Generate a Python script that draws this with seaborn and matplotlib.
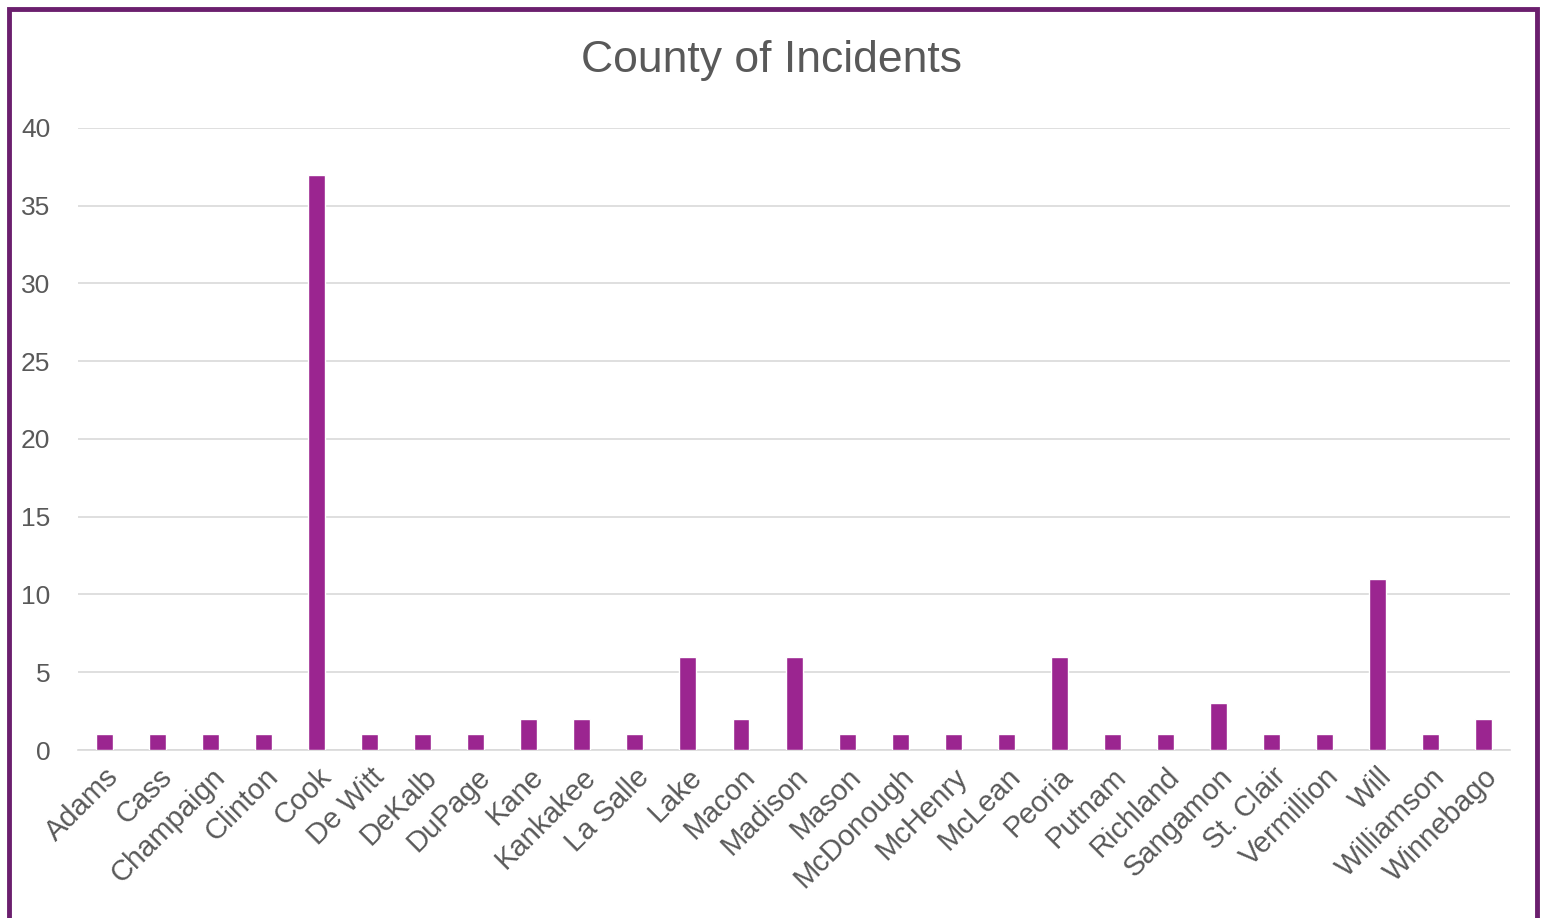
import matplotlib
matplotlib.use("Agg")
import matplotlib.pyplot as plt
import matplotlib.patches as mpatches
import seaborn as sns
import pandas as pd

counties = ["Adams", "Cass", "Champaign", "Clinton", "Cook", "De Witt", "DeKalb",
            "DuPage", "Kane", "Kankakee", "La Salle", "Lake", "Macon", "Madison",
            "Mason", "McDonough", "McHenry", "McLean", "Peoria", "Putnam",
            "Richland", "Sangamon", "St. Clair", "Vermillion", "Will",
            "Williamson", "Winnebago"]
incidents = [1, 1, 1, 1, 37, 1, 1, 1, 2, 2, 1, 6, 2, 6, 1, 1, 1, 1, 6, 1, 1, 3,
             1, 1, 11, 1, 2]
yticks = [0, 5, 10, 15, 20, 25, 30, 35, 40]
title = "County of Incidents"

sns.set_theme(style="white")
plt.rcParams['font.family'] = ['Liberation Sans', 'DejaVu Sans']

df = pd.DataFrame({"County": counties, "Incidents": incidents})

fig = plt.figure(figsize=(15.43, 9.18), dpi=100)
ax = fig.add_axes([0.0506, 0.183, 0.928, 0.6776])

sns.barplot(data=df, x="County", y="Incidents", color="#9B2590",
            saturation=1, width=0.32, ax=ax, zorder=3)

ax.set_ylim(0, 40)
ax.set_yticks(yticks)
ax.set_xlim(-0.5, len(counties) - 0.5)
ax.yaxis.grid(True, color="#D9D9D9", linewidth=1.2, zorder=0)
ax.xaxis.grid(False)
for s in ["top", "right", "left"]:
    ax.spines[s].set_visible(False)
ax.spines["bottom"].set_color("#D9D9D9")
ax.spines["bottom"].set_linewidth(1.2)
ax.tick_params(axis="y", length=0, labelsize=19, colors="#595959", pad=20)
ax.tick_params(axis="x", length=0, labelsize=21, colors="#595959", pad=9)
ax.set_xlabel("")
ax.set_ylabel("")
for lbl in ax.get_xticklabels():
    lbl.set_rotation(45)
    lbl.set_ha("right")
    lbl.set_rotation_mode("anchor")

fig.text(0.5, 0.934, title, ha="center", va="center", fontsize=32, color="#595959")

border = mpatches.Rectangle((8.5 / 1543, -0.05), (1537 - 8.5) / 1543, 1.05 - 8.5 / 918,
                            transform=fig.transFigure, fill=False,
                            edgecolor="#6B1F6E", linewidth=3.5, zorder=10)
fig.patches.append(border)

fig.savefig("out.png", dpi=100)
